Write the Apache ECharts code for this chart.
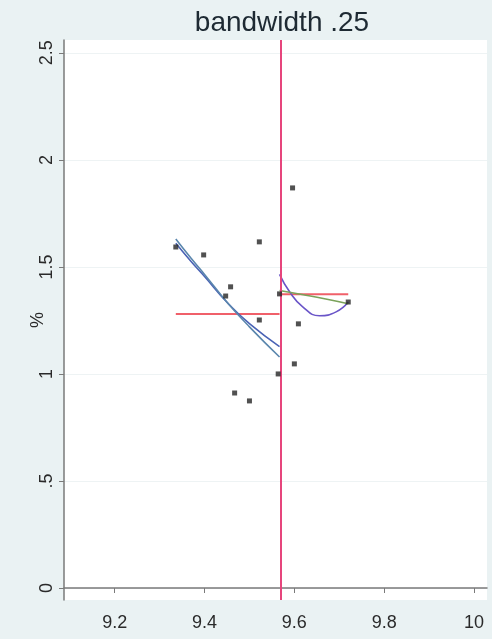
<!DOCTYPE html>
<html>
<head>
<meta charset="utf-8">
<script src="https://cdn.jsdelivr.net/npm/echarts@6/dist/echarts.min.js"></script>
<style>
html,body{margin:0;padding:0;background:#eaf2f3;}
#c{width:492px;height:639px;}
</style>
</head>
<body>
<div id="c"></div>
<script>
// ---- data ----
const titleText = "bandwidth .25";
const yAxisName = "%";
const xTicks = [9.2, 9.4, 9.6, 9.8, 10];
const yTicks = [0, 0.5, 1, 1.5, 2, 2.5];
const yTickLabels = ["0", ".5", "1", "1.5", "2", "2.5"];
const xRange = [9.087, 10.029];
const yRange = [-0.056, 2.56];
const cutoff = 9.567;

const pointsX = [9.336, 9.398, 9.458, 9.447, 9.522, 9.522, 9.467, 9.500, 9.564, 9.567, 9.596, 9.609, 9.600, 9.720];
const pointsY = [1.593, 1.556, 1.407, 1.364, 1.617, 1.252, 0.911, 0.874, 1.000, 1.374, 1.869, 1.234, 1.047, 1.336];

const meanLeftX = [9.336, 9.567];
const meanLeftY = [1.280, 1.280];
const meanRightX = [9.567, 9.720];
const meanRightY = [1.372, 1.372];

const fitLeftAX = [9.336, 9.370, 9.400, 9.450, 9.500, 9.567];
const fitLeftAY = [1.610, 1.525, 1.455, 1.335, 1.235, 1.128];
const fitLeftBX = [9.336, 9.370, 9.400, 9.450, 9.500, 9.567];
const fitLeftBY = [1.630, 1.540, 1.465, 1.335, 1.220, 1.079];

const fitRightQX = [9.567, 9.589, 9.618, 9.656, 9.693, 9.720];
const fitRightQY = [1.465, 1.385, 1.315, 1.272, 1.290, 1.336];
const fitRightLX = [9.567, 9.620, 9.670, 9.720];
const fitRightLY = [1.390, 1.370, 1.350, 1.328];

const zip = (xs, ys) => xs.map((x, i) => [x, ys[i]]);

const chart = echarts.init(document.getElementById('c'), null, {renderer: 'canvas'});
const fontFam = '"Liberation Sans", Arial, sans-serif';

function lineSeries(xs, ys, color, smooth, width) {
  return {
    type: 'line', data: zip(xs, ys), smooth: smooth, showSymbol: false, symbol: 'none',
    lineStyle: {color: color, width: width || 1.6}, z: 3, silent: true
  };
}

chart.setOption({
  backgroundColor: '#eaf2f3',
  animation: false,
  title: {
    text: titleText, left: 277, top: 4, textAlign: 'center',
    textStyle: {fontFamily: fontFam, fontSize: 28, fontWeight: 'normal', color: '#1e2a33'}
  },
  grid: {left: 64, right: 5, top: 40, bottom: 39, show: true, backgroundColor: '#ffffff', borderWidth: 0},
  xAxis: {
    type: 'value', min: xRange[0], max: xRange[1],
    axisLine: {show: true, lineStyle: {color: '#7a7a7a', width: 1.5}},
    axisTick: {show: true, length: 5, customValues: xTicks, lineStyle: {color: '#7a7a7a'}},
    axisLabel: {customValues: xTicks, color: '#2a2a2a', fontSize: 18, fontFamily: fontFam, margin: 14,
      formatter: v => String(Math.round(v * 10) / 10)},
    splitLine: {show: false}
  },
  yAxis: {
    type: 'value', min: yRange[0], max: yRange[1],
    name: yAxisName, nameLocation: 'middle', nameGap: 17, nameRotate: 90, nameMoveOverlap: false,
    nameTextStyle: {color: '#2a2a2a', fontSize: 18, fontFamily: fontFam},
    axisLine: {show: true, lineStyle: {color: '#7a7a7a', width: 1.5}},
    axisTick: {show: true, length: 5, customValues: yTicks, lineStyle: {color: '#7a7a7a'}},
    axisLabel: {customValues: yTicks, rotate: 90, color: '#2a2a2a', fontSize: 18, fontFamily: fontFam, margin: 8,
      formatter: v => yTickLabels[yTicks.findIndex(t => Math.abs(t - v) < 1e-6)] || ''},
    splitLine: {show: true, lineStyle: {color: '#eef3f4', width: 1}}
  },
  series: [
    {
      type: 'scatter', data: zip(pointsX, pointsY), symbol: 'rect', symbolSize: 5,
      itemStyle: {color: '#262626'}, z: 5, silent: true,
      markLine: {
        silent: true, symbol: 'none', label: {show: false},
        lineStyle: {color: '#e6457c', width: 2, type: 'solid'},
        data: [{xAxis: cutoff}]
      }
    },
    lineSeries(meanLeftX, meanLeftY, '#f0606a', false, 2),
    lineSeries(meanRightX, meanRightY, '#f0606a', false, 2),
    lineSeries(fitLeftAX, fitLeftAY, '#4a63b5', true),
    lineSeries(fitLeftBX, fitLeftBY, '#5a86ad', true),
    lineSeries(fitRightQX, fitRightQY, '#6a55c8', true),
    lineSeries(fitRightLX, fitRightLY, '#7aa25a', true)
  ]
});
</script>
</body>
</html>
